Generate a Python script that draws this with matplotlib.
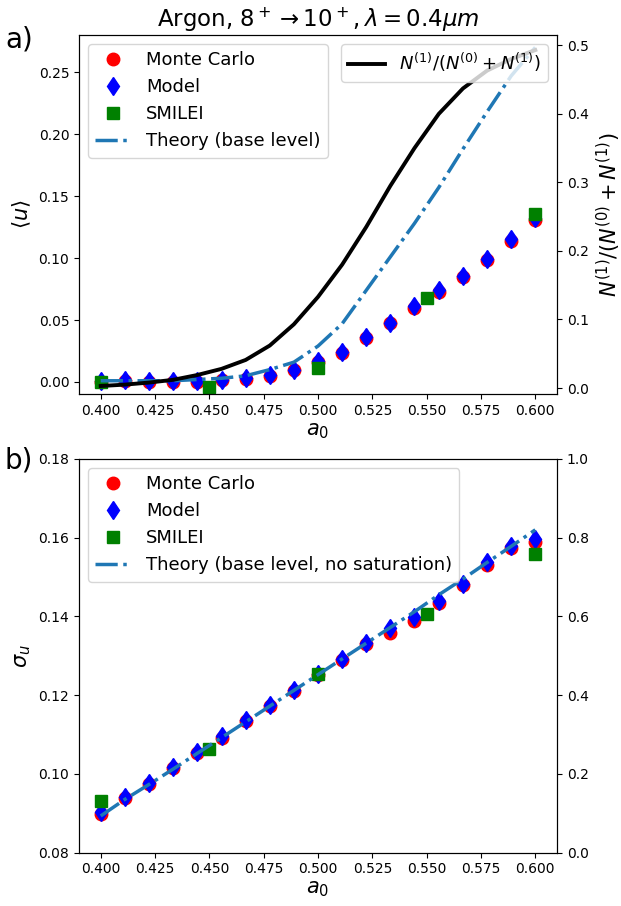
import numpy as np
import matplotlib
matplotlib.use("Agg")
import matplotlib.pyplot as plt

# laser amplitude grid
a0 = [0.4, 0.4111, 0.4222, 0.4333, 0.4444, 0.4556, 0.4667, 0.4778, 0.4889, 0.5,
      0.5111, 0.5222, 0.5333, 0.5444, 0.5556, 0.5667, 0.5778, 0.5889, 0.6]
a0_smilei = [0.4, 0.45, 0.5, 0.55, 0.6]

# panel a) mean <u>
u_mc = [0.0, 0.001, 0.0, 0.0, 0.0, 0.0015, 0.0024, 0.0048, 0.0095, 0.016,
        0.0236, 0.0352, 0.0473, 0.0595, 0.0728, 0.0844, 0.0984, 0.1137, 0.1306]
u_model = [0.0005, 0.0015, 0.0005, 0.0005, 0.0005, 0.002, 0.003, 0.0055, 0.010, 0.017,
           0.0245, 0.036, 0.048, 0.0615, 0.074, 0.0855, 0.0995, 0.1150, 0.1320]
u_smilei = [0.0, -0.0043, 0.0116, 0.068, 0.1355]
u_theory = [0.001, 0.001, 0.001, 0.001, 0.002, 0.003, 0.005, 0.010, 0.016, 0.029,
            0.047, 0.074, 0.101, 0.128, 0.157, 0.188, 0.218, 0.247, 0.270]
frac_n1 = [0.003, 0.005, 0.008, 0.012, 0.019, 0.028, 0.041, 0.062, 0.093, 0.133,
           0.180, 0.235, 0.295, 0.350, 0.400, 0.437, 0.463, 0.480, 0.493]

# panel b) spread sigma_u
s_mc = [0.0899, 0.0939, 0.0974, 0.1014, 0.1052, 0.1092, 0.1134, 0.1172, 0.1210, 0.1250,
        0.1289, 0.1330, 0.1357, 0.1389, 0.1435, 0.1480, 0.1530, 0.1573, 0.1590]
s_model = [0.0902, 0.0942, 0.0977, 0.1018, 0.1056, 0.1096, 0.1138, 0.1176, 0.1214, 0.1254,
           0.1292, 0.1333, 0.1370, 0.1399, 0.1439, 0.1483, 0.1539, 0.1579, 0.1596]
s_smilei = [0.0930, 0.1062, 0.1253, 0.1405, 0.1558]
s_theory = [0.0893, 0.0935, 0.0973, 0.1012, 0.1052, 0.1092, 0.1132, 0.1172, 0.1212, 0.1252,
            0.1292, 0.1332, 0.1372, 0.1412, 0.1455, 0.1495, 0.1537, 0.1578, 0.1620]

fig = plt.figure(figsize=(6.21, 9.06), dpi=100)
ax1 = fig.add_axes([0.1272, 0.5651, 0.7698, 0.3963])
ax2 = fig.add_axes([0.1272, 0.0590, 0.7698, 0.4344])

ms = 9
# --- panel a ---
ax1.plot(a0, u_mc, 'o', color='red', ms=ms, ls='none', label='Monte Carlo')
ax1.plot(a0, u_model, 'd', color='blue', ms=ms + 0.5, ls='none', label='Model')
ax1.plot(a0_smilei, u_smilei, 's', color='green', ms=ms, ls='none', label='SMILEI')
ax1.plot(a0, u_theory, '-.', color='#1f77b4', lw=2.5, label='Theory (base level)')
ax1.set_xlim(0.39, 0.61)
ax1.set_ylim(-0.0097, 0.280)
ax1.set_yticks(np.arange(0, 0.26, 0.05))
ax1.set_ylabel(r'$\langle u\rangle$', fontsize=15)
ax1.set_xlabel(r'$a_0$', fontsize=15, labelpad=2)
ax1.set_title(r'Argon, $8^+\rightarrow 10^+, \lambda=0.4\mu m$', fontsize=16.5)
ax1.legend(loc='upper left', fontsize=13)

tw1 = ax1.twinx()
tw1.plot(a0, frac_n1, '-', color='black', lw=2.8,
         label=r'$N^{(1)}/(N^{(0)}+N^{(1)})$')
tw1.set_ylim(-0.0087, 0.515)
tw1.set_yticks(np.arange(0, 0.51, 0.1))
tw1.set_ylabel(r'$N^{(1)}/(N^{(0)}+N^{(1)})$', fontsize=15)
tw1.legend(loc='upper right', fontsize=13)

# --- panel b ---
ax2.plot(a0, s_mc, 'o', color='red', ms=ms, ls='none', label='Monte Carlo')
ax2.plot(a0, s_model, 'd', color='blue', ms=ms + 0.5, ls='none', label='Model')
ax2.plot(a0_smilei, s_smilei, 's', color='green', ms=ms, ls='none', label='SMILEI')
ax2.plot(a0, s_theory, '-.', color='#1f77b4', lw=2.5,
         label='Theory (base level, no saturation)')
ax2.set_xlim(0.39, 0.61)
ax2.set_ylim(0.08, 0.18)
ax2.set_ylabel(r'$\sigma_u$', fontsize=15)
ax2.set_xlabel(r'$a_0$', fontsize=15, labelpad=2)
ax2.legend(loc='upper left', fontsize=13)

tw2 = ax2.twinx()
tw2.set_ylim(0, 1.0)

for ax in (ax1, ax2, tw1, tw2):
    ax.tick_params(labelsize=10)

fig.text(0.008, 0.948, 'a)', fontsize=20)
fig.text(0.008, 0.483, 'b)', fontsize=20)

fig.savefig('out.png', dpi=100)
